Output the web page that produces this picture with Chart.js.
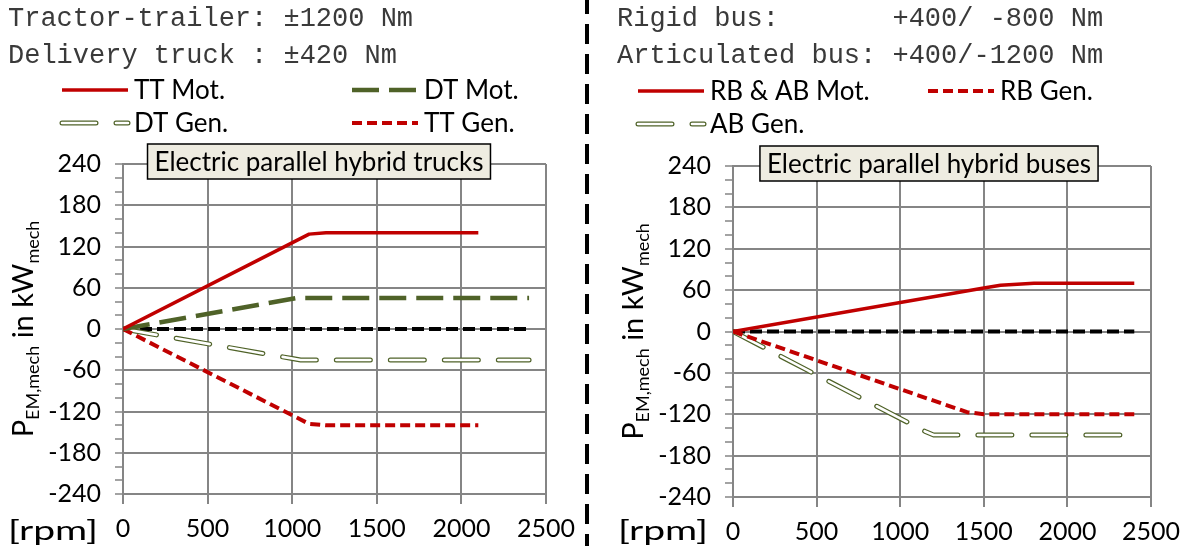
<!DOCTYPE html>
<html>
<head>
<meta charset="utf-8">
<script src="https://cdn.jsdelivr.net/npm/chart.js@4.4.0/dist/chart.umd.min.js"></script>
<style>
  html, body { margin: 0; padding: 0; background: #fff; }
  #wrap { position: relative; width: 1190px; height: 546px; overflow: hidden; }
  #truckChart { position: absolute; left: 0; top: 0; }
  #busChart { position: absolute; left: 590px; top: 0; }
  #divider { position: absolute; left: 585px; top: 0; }
</style>
</head>
<body>
<div id="wrap">
  <canvas id="truckChart" width="585" height="546"></canvas>
  <svg id="divider" width="6" height="546"><line x1="2" y1="-6" x2="2" y2="546" stroke="#000" stroke-width="4" stroke-dasharray="20 10"/></svg>
  <canvas id="busChart" width="600" height="546"></canvas>
</div>
<script>
// axes
const rpmTicks = [0, 500, 1000, 1500, 2000, 2500];
const kwTicks = [-240, -180, -120, -60, 0, 60, 120, 180, 240];

// trucks (left)
const ttMotRpm = [0, 1100, 1200, 2100];
const ttMotKw = [0, 138, 140, 140];
const dtMotRpm = [0, 1025, 2400];
const dtMotKw = [0, 45, 45];
const dtGenRpm = [0, 1000, 1050, 2400];
const dtGenKw = [0, -43, -45, -45];
const ttGenRpm = [0, 1100, 1200, 2100];
const ttGenKw = [0, -138, -140, -140];

// buses (right)
const busMotRpm = [0, 1500, 1600, 1800, 2400];
const busMotKw = [0, 63, 67, 70, 70];
const rbGenRpm = [0, 1400, 1500, 2400];
const rbGenKw = [0, -117, -120, -120];
const abGenRpm = [0, 1150, 1200, 2400];
const abGenKw = [0, -145, -150, -150];

// zero reference line
const zeroRpm = [0, 2400];
const zeroKw = [0, 0];

const truckHeader = ['Tractor-trailer: \u00b11200 Nm', 'Delivery truck : \u00b1420 Nm'];
const busHeader = ['Rigid bus:       +400/ -800 Nm', 'Articulated bus: +400/-1200 Nm'];

const GRID = '#858585';
const RED = '#c00000';
const OLIVE = '#4f6228';
const SANS = 'Lato';

function pts(xs, ys) {
    return xs.map((x, i) => ({ x: x, y: ys[i] }));
}

function line(data, color, width, dash, order, cap) {
    return {
        data: data,
        borderColor: color,
        borderWidth: width,
        borderDash: dash,
        borderCapStyle: cap || 'butt',
        borderJoinStyle: 'round',
        pointRadius: 0,
        tension: 0,
        fill: false,
        order: order
    };
}

// draws header, legend, title box and axis labels
const decor = {
    id: 'decor',
    afterDraw(chart, args, opts) {
        const ctx = chart.ctx;
        const area = chart.chartArea;
        ctx.save();

        ctx.fillStyle = '#3a3a3a';
        ctx.font = '27px "Liberation Mono", monospace';
        ctx.textBaseline = 'middle';
        ctx.textAlign = 'left';
        opts.header.forEach((t, i) => ctx.fillText(t, opts.headerX, 19 + i * 37));

        ctx.fillStyle = '#000';
        ctx.font = '26px ' + SANS;
        opts.legend.forEach(item => {
            item.sets.forEach(di => {
                const ds = chart.data.datasets[di];
                ctx.save();
                ctx.strokeStyle = ds.borderColor;
                ctx.lineWidth = ds.borderWidth;
                ctx.lineCap = ds.borderCapStyle;
                ctx.setLineDash(ds.borderDash || []);
                ctx.beginPath();
                ctx.moveTo(item.x, item.y);
                ctx.lineTo(item.x + 66, item.y);
                ctx.stroke();
                ctx.restore();
            });
            ctx.fillText(item.label, item.x + 72, item.y + 1);
        });

        // title box
        ctx.font = '26px ' + SANS;
        const tw = ctx.measureText(opts.title).width;
        const cx = area.left + 196;
        const bx = cx - tw / 2 - 7;
        const by = area.top - 20;
        ctx.fillStyle = '#eeece1';
        ctx.fillRect(bx, by, tw + 14, 35);
        ctx.strokeStyle = '#000';
        ctx.lineWidth = 1.5;
        ctx.strokeRect(bx, by, tw + 14, 35);
        ctx.fillStyle = '#000';
        ctx.textAlign = 'center';
        ctx.fillText(opts.title, cx, by + 18.5);

        // x axis unit, stretched to the width it has in the figure
        ctx.save();
        ctx.textAlign = 'right';
        ctx.font = '27px ' + SANS;
        const uw = ctx.measureText('[rpm]').width;
        ctx.translate(area.left - 25, 531);
        ctx.scale(90 / uw, 1);
        ctx.fillText('[rpm]', 0, 0);
        ctx.restore();

        // y axis title with subscripts
        ctx.translate(area.left - 90, (area.top + area.bottom) / 2);
        ctx.rotate(-Math.PI / 2);
        ctx.textBaseline = 'alphabetic';
        ctx.textAlign = 'left';
        const parts = [['P', 29, 0], ['EM,mech', 18, 6], [' in kW', 29, 0], ['mech', 18, 6]];
        let total = 0;
        parts.forEach(p => { ctx.font = p[1] + 'px ' + SANS; total += ctx.measureText(p[0]).width; });
        let x = -total / 2;
        parts.forEach(p => {
            ctx.font = p[1] + 'px ' + SANS;
            ctx.fillText(p[0], x, p[2]);
            x += ctx.measureText(p[0]).width;
        });
        ctx.restore();
    }
};

function makeOptions(xHeight, pad, extra) {
    return {
        responsive: false,
        animation: false,
        layout: { padding: pad },
        plugins: {
            legend: { display: false },
            tooltip: { enabled: false },
            decor: extra
        },
        scales: {
            x: {
                type: 'linear',
                min: rpmTicks[0],
                max: rpmTicks[rpmTicks.length - 1],
                afterBuildTicks: (s) => { s.ticks = rpmTicks.map(v => ({ value: v })); },
                grid: { color: GRID, lineWidth: 2, tickLength: 10, tickColor: GRID, tickWidth: 2 },
                border: { display: true, color: GRID, width: 2 },
                ticks: {
                    color: '#000',
                    font: { family: SANS, size: 25 },
                    padding: 10,
                    maxRotation: 0,
                    autoSkip: false,
                    callback: (v) => String(v)
                },
                afterFit: (s) => { s.height = xHeight; }
            },
            y: {
                min: kwTicks[0],
                max: kwTicks[kwTicks.length - 1],
                ticks: {
                    stepSize: 20,
                    autoSkip: false,
                    color: '#000',
                    font: { family: SANS, size: 25 },
                    padding: 14,
                    callback: (v) => kwTicks.includes(v) ? String(v) : ''
                },
                grid: {
                    color: (c) => (c.tick && kwTicks.includes(c.tick.value)) ? GRID : 'rgba(0,0,0,0)',
                    lineWidth: 2,
                    tickLength: 8,
                    tickColor: GRID,
                    tickWidth: 1.5
                },
                border: { display: true, color: GRID, width: 2 },
                afterFit: (s) => { s.width = extra.yWidth; }
            }
        }
    };
}

new Chart(document.getElementById('truckChart'), {
    type: 'line',
    data: {
        datasets: [
            line(pts(ttMotRpm, ttMotKw), RED, 3.5, [], 1),
            line(pts(dtMotRpm, dtMotKw), OLIVE, 4.5, [27, 10], 2),
            line(pts(dtGenRpm, dtGenKw), OLIVE, 5, [34, 20], 4, 'round'),
            line(pts(dtGenRpm, dtGenKw), '#ffffff', 2.6, [34, 20], 3, 'round'),
            line(pts(ttGenRpm, ttGenKw), RED, 4, [10, 5], 2),
            line(pts(zeroRpm, zeroKw), '#000000', 4, [12, 5], 9)
        ]
    },
    options: makeOptions(52, { top: 164, right: 39, left: 0, bottom: 0 }, {
        header: truckHeader,
        headerX: 8,
        title: 'Electric parallel hybrid trucks',
        yWidth: 123,
        legend: [
            { label: 'TT Mot.', sets: [0], x: 62, y: 90 },
            { label: 'DT Mot.', sets: [1], x: 352, y: 90 },
            { label: 'DT Gen.', sets: [2, 3], x: 62, y: 123 },
            { label: 'TT Gen.', sets: [4], x: 352, y: 123 }
        ]
    }),
    plugins: [decor]
});

new Chart(document.getElementById('busChart'), {
    type: 'line',
    data: {
        datasets: [
            line(pts(busMotRpm, busMotKw), RED, 3.5, [], 1),
            line(pts(rbGenRpm, rbGenKw), RED, 4, [10, 5], 2),
            line(pts(abGenRpm, abGenKw), OLIVE, 5, [34, 20], 4, 'round'),
            line(pts(abGenRpm, abGenKw), '#ffffff', 2.6, [34, 20], 3, 'round'),
            line(pts(zeroRpm, zeroKw), '#000000', 4, [12, 5], 9)
        ]
    },
    options: makeOptions(49, { top: 166, right: 35, left: 0, bottom: 0 }, {
        header: busHeader,
        headerX: 27,
        title: 'Electric parallel hybrid buses',
        yWidth: 143,
        legend: [
            { label: 'RB & AB Mot.', sets: [0], x: 48, y: 91 },
            { label: 'RB Gen.', sets: [1], x: 338, y: 91 },
            { label: 'AB Gen.', sets: [2, 3], x: 48, y: 124 }
        ]
    }),
    plugins: [decor]
});
</script>
</body>
</html>
